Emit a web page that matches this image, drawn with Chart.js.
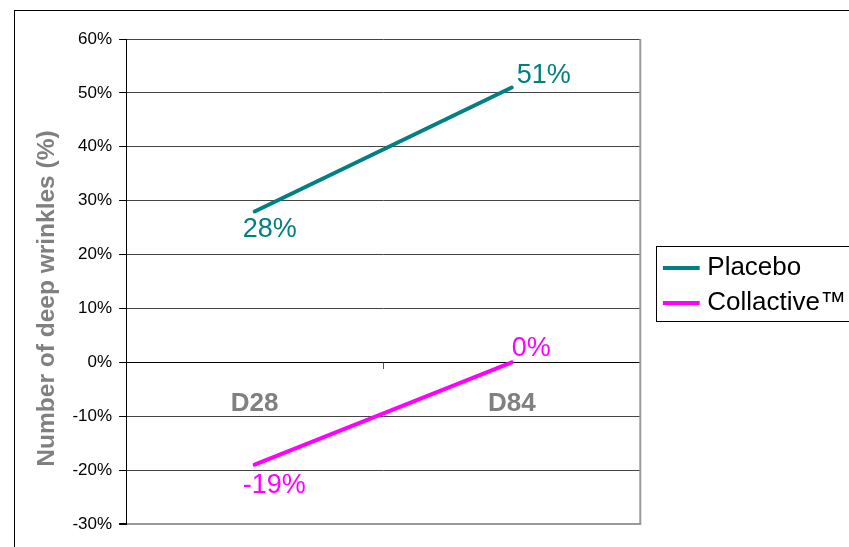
<!DOCTYPE html>
<html>
<head>
<meta charset="utf-8">
<script src="https://cdn.jsdelivr.net/npm/chart.js@4"></script>
<style>
  html, body { margin: 0; padding: 0; background: #fff; }
  #wrap { position: relative; width: 849px; height: 547px; overflow: hidden; }
  #frame { position: absolute; left: 14px; top: 10px; width: 900px; height: 600px; border: 1px solid #000; box-sizing: border-box; }
  canvas { position: absolute; left: 0; top: 0; }
</style>
</head>
<body>
<div id="wrap">
  <div id="frame"></div>
  <canvas id="chart" width="849" height="547"></canvas>
</div>
<script>
    // data block
    const days = ['D28', 'D84']
    const placebo = [28, 51]
    const collactive = [-19, 0]
    const yTicks = [60, 50, 40, 30, 20, 10, 0, -10, -20, -30]

    // value labels next to each point
    const pointLabels = {
        id: 'pointLabels',
        afterDatasetsDraw(chart) {
            const { ctx } = chart
            ctx.save()
            ctx.font = '27px "Liberation Sans", Arial'
            ctx.textAlign = 'left'
            ctx.textBaseline = 'middle'
            chart.data.datasets.forEach((ds, i) => {
                const meta = chart.getDatasetMeta(i)
                ctx.fillStyle = ds.borderColor
                meta.data.forEach((pt, j) => {
                    const v = ds.data[j]
                    let dx, dy
                    if (j === 0) { dx = -12; dy = v < 0 ? 21 : 18 }
                    else { dx = v === 0 ? 0 : 5; dy = v === 0 ? -14 : -12 }
                    ctx.fillText(v + '%', pt.x + dx, pt.y + dy)
                })
            })
            ctx.restore()
        }
    }

    // move the legend a bit right/down after layout, then box it
    const legendBox = {
        id: 'legendBox',
        afterLayout(chart) {
            const lg = chart.legend
            lg.left += 19; lg.right += 19
            lg.top += 4; lg.bottom += 4
        },
        afterDraw(chart) {
            const { ctx } = chart
            const lg = chart.legend
            const pad = lg.options.labels.padding
            const colH = lg.columnSizes[0].height
            const yStart = (lg.top + pad + lg.bottom - colH) / 2
            const x0 = lg.left + pad - 12.5
            const y0 = yStart - 9
            const y1 = yStart + colH - pad + 5
            ctx.save()
            ctx.strokeStyle = '#000'
            ctx.lineWidth = 1
            ctx.strokeRect(Math.round(x0) + 0.5, Math.round(y0) + 0.5, 300, Math.round(y1 - y0))
            ctx.restore()
        }
    }

    // gray right edge of the plot area
    const plotEdge = {
        id: 'plotEdge',
        afterDraw(chart) {
            const { ctx, chartArea: { top, right, bottom } } = chart
            ctx.save()
            ctx.strokeStyle = '#999'
            ctx.lineWidth = 2
            ctx.beginPath()
            ctx.moveTo(right, top)
            ctx.lineTo(right, bottom + 1)
            ctx.stroke()
            ctx.restore()
        }
    }

    const config = {
        type: 'line',
        data: {
            labels: days,
            datasets: [{
                label: 'Placebo',
                data: placebo,
                borderColor: '#008080',
                backgroundColor: '#008080',
                borderWidth: 4,
                pointRadius: 0,
                borderCapStyle: 'round'
            }, {
                label: 'Collactive™',
                data: collactive,
                borderColor: '#ff00ff',
                backgroundColor: '#ff00ff',
                borderWidth: 4,
                pointRadius: 0,
                borderCapStyle: 'round'
            }]
        },
        options: {
            responsive: false,
            animation: false,
            layout: { padding: { left: 33, top: 39, bottom: 23, right: 12 } },
            plugins: {
                legend: {
                    position: 'right',
                    labels: {
                        usePointStyle: true,
                        pointStyle: 'line',
                        boxWidth: 40,
                        padding: 9,
                        color: '#000',
                        font: { family: '"Liberation Sans", Arial', size: 26 }
                    }
                },
                tooltip: { enabled: false }
            },
            scales: {
                x: {
                    position: { y: 0 },
                    offset: true,
                    grid: { offset: true, drawOnChartArea: false, tickLength: 6, color: '#555' },
                    border: { color: '#000' },
                    ticks: {
                        padding: 20,
                        color: '#808080',
                        font: { family: '"Liberation Sans", Arial', size: 26, weight: 'bold' }
                    }
                },
                y: {
                    min: -30,
                    max: 60,
                    afterBuildTicks: (scale) => { scale.ticks = yTicks.map(v => ({ value: v })) },
                    grid: {
                        color: (c) => c.tick && c.tick.value === -30 ? '#999' : '#444',
                        lineWidth: (c) => c.tick && c.tick.value === -30 ? 2 : 1,
                        tickColor: '#000',
                        tickLength: 7
                    },
                    border: { color: '#000' },
                    ticks: {
                        padding: 7,
                        color: '#000',
                        font: { family: '"Liberation Sans", Arial', size: 17 },
                        callback: v => v + '%'
                    },
                    title: {
                        display: true,
                        text: 'Number of deep wrinkles (%)     ',
                        color: '#808080',
                        padding: { top: 0, bottom: 3 },
                        font: { family: '"Liberation Sans", Arial', size: 24.5, weight: 'bold' }
                    }
                }
            }
        },
        plugins: [pointLabels, legendBox, plotEdge]
    }

    const chart = new Chart(document.getElementById('chart'), config)
</script>
</body>
</html>
